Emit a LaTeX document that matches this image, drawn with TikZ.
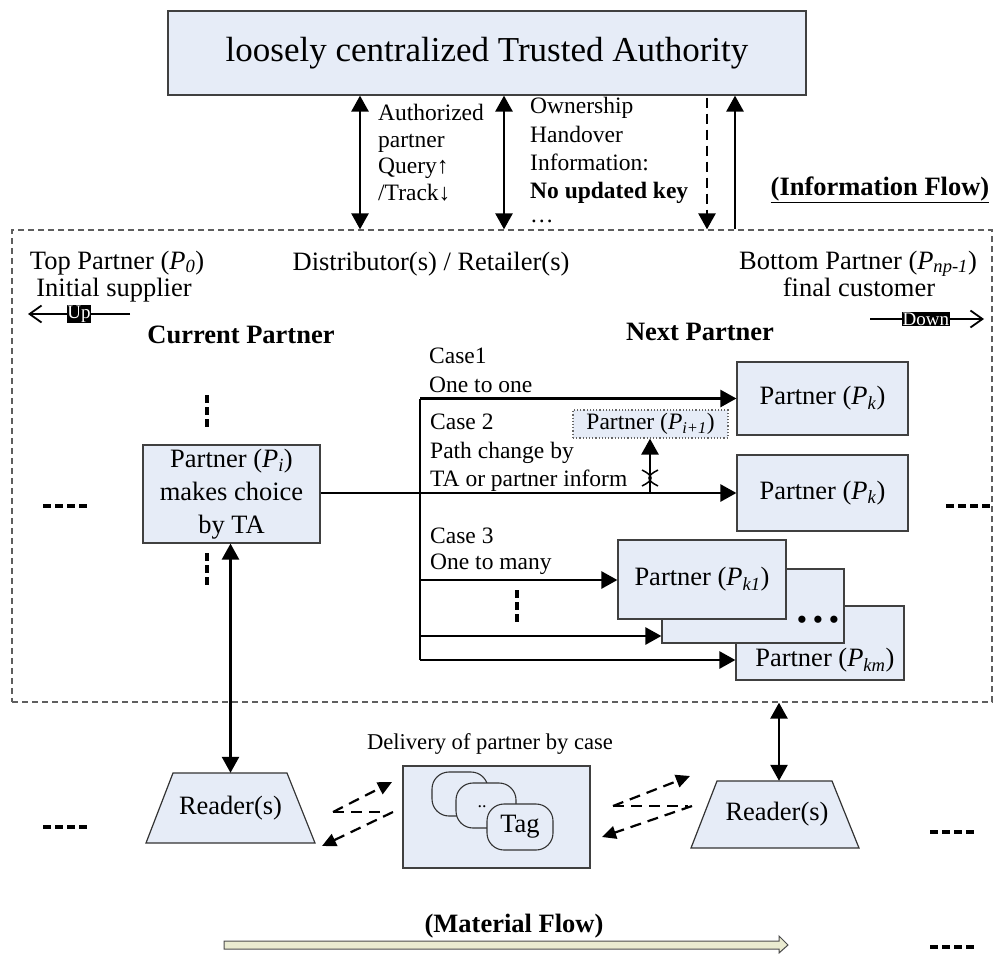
\documentclass[tikz,border=0pt]{standalone}
\usepackage{fontspec}
\setmainfont{Liberation Serif}
\usetikzlibrary{arrows.meta}
\definecolor{boxfill}{RGB}{230,236,247}
\definecolor{flowfill}{RGB}{234,235,208}
\definecolor{framegray}{RGB}{95,95,95}
\newcommand{\pp}[1]{\textit{P}\textsubscript{\textit{#1}}}
\newcommand{\fmain}{\fontsize{26.5}{33}\selectfont}
\newcommand{\fnote}{\fontsize{23.5}{28}\selectfont}
\newcommand{\ftitle}{\fontsize{35}{40}\selectfont}

\begin{document}
\begin{tikzpicture}[x=1pt,y=-1pt,
  box/.style={draw=black!75, line width=1.2pt, fill=boxfill, inner sep=0pt, font=\fmain, align=center},
  dotbox/.style={draw=black!60, dotted, line width=1.2pt, fill=boxfill, inner sep=0pt, font=\fnote},
  tagshape/.style={draw=black!80, line width=1.1pt, fill=boxfill, rounded corners=17pt, inner sep=0pt, font=\fmain},
  flow/.style={line width=2.6pt},
  tip/.style={-{Triangle[length=16pt,width=17pt]}},
  tips/.style={{Triangle[length=16pt,width=17pt]}-{Triangle[length=16pt,width=17pt]}},
  dflow/.style={line width=2.2pt, dash pattern=on 11pt off 7pt, -{Triangle[length=14pt,width=13pt]}},
  dline/.style={line width=2.2pt, dash pattern=on 11pt off 7pt},
  lbl/.style={font=\fmain, inner sep=0pt},
  note/.style={font=\fnote, inner sep=0pt, anchor=base west},
  dirarrow/.style={line width=1.8pt, -{Straight Barb[length=12pt,width=17pt,line width=1.8pt]}},
  dirtag/.style={fill=black, text=white, font=\fontsize{19}{19}\selectfont, inner sep=0.8pt},
  dotsh/.style={line width=4pt, dash pattern=on 8pt off 4pt},
  dotsv/.style={line width=4pt, dash pattern=on 8pt off 4pt},
]
\useasboundingbox (0,0) rectangle (1000,953);

% ---------- trusted authority and the partner frame ----------
\node[box, font=\ftitle, minimum width=638pt, minimum height=84pt] (ta) at (487,53) {loosely centralized Trusted Authority};
\node[draw=framegray, line width=1.3pt, dash pattern=on 6pt off 4pt, minimum width=980pt, minimum height=472pt, inner sep=0pt] (fr) at (502,466) {};

\coordinate (xa) at (360,0);
\coordinate (xb) at (504,0);
\coordinate (xc) at (707,0);
\coordinate (xd) at (735,0);
\draw[flow,tips] (ta.south -| xa) -- (fr.north -| xa);
\draw[flow,tips] (ta.south -| xb) -- (fr.north -| xb);
\draw[line width=2.6pt, dash pattern=on 10pt off 6pt, -{Triangle[length=16pt,width=17pt]}] ([yshift=-2pt]ta.south -| xc) -- (fr.north -| xc);
\draw[flow,tip] (fr.north -| xd) -- (ta.south -| xd);

\node[note] (q1) at (378,120) {Authorized};
\node[note] (q2) at (378,147) {partner};
\node[note] (q3) at (378,173) {Query↑};
\node[note] (q4) at (378,200) {/Track↓};
\node[note] (o1) at (530,113) {Ownership};
\node[note] (o2) at (530,142) {Handover};
\node[note] (o3) at (530,170) {Information:};
\node[note] (o4) at (530,198) {\textbf{No updated key}};
\node[note] (o5) at (530,222) {…};

\node[lbl, anchor=base] (info) at (880,195) {\underline{\textbf{(Information Flow)}}};

% ---------- headings inside the frame ----------
\node[lbl, anchor=base] (top1) at (117,269) {Top Partner (\pp{0})};
\node[lbl, anchor=base] (top2) at (114,296) {Initial supplier};
\node[lbl, anchor=base] (dist) at (431,270) {Distributor(s) / Retailer(s)};
\node[lbl, anchor=base] (bot1) at (858,269) {Bottom Partner (\pp{np-1})};
\node[lbl, anchor=base] (bot2) at (859,296) {final customer};
\node[lbl, anchor=base] (cur) at (241,343) {\textbf{Current Partner}};
\node[lbl, anchor=base] (nxt) at (700,340) {\textbf{Next Partner}};

\coordinate (upR) at (130,314);
\coordinate (upL) at (28,314);
\draw[dirarrow] (upR) -- (upL) node[pos=0.5, dirtag] {Up};
\coordinate (dnL) at (870,319);
\coordinate (dnR) at (984,319);
\draw[dirarrow] (dnL) -- (dnR) node[pos=0.49, dirtag] {Down};

% ---------- current partner ----------
\node[box, minimum width=177pt, minimum height=98pt] (pi) at (231.5,494) {Partner (\pp{i})\\makes choice\\by TA};
\draw[dotsv] (207,395) -- (207,427);
\draw[dotsv] (207,553) -- (207,585);
\draw[dotsh] (43,506) -- (89,506);
\draw[dotsh] (946,506) -- (992,506);

% ---------- next partner, case 1 and case 2 ----------
\node[box, minimum width=171pt, minimum height=73pt] (pk1) at (822.5,398.5) {Partner (\pp{k})};
\node[box, minimum width=171pt, minimum height=76pt] (pk2) at (822.5,493) {Partner (\pp{k})};
\node[dotbox, minimum width=155pt, minimum height=28pt] (pnx) at (650.5,424) {Partner (\pp{i+1})};

\coordinate (c1) at (420,398.5);
\coordinate (c2) at (420,493);
\coordinate (c3a) at (420,580);
\coordinate (c3b) at (420,636);
\coordinate (c3c) at (420,660);
\coordinate (br) at (650,493);

\draw[flow] (c1) -- (c3c);
\draw[flow,tip] (c1) -- (pk1.west);
\draw[flow] (pi.east |- c2) -- (c2);
\draw[flow,tip] (c2) -- (pk2.west);
\draw[flow,tip] (br) -- (br |- pnx.south);
% cut mark on the path-change branch
\draw[line width=1.5pt] (642,470) .. controls (654,476) and (654,480) .. (642,486)
                        (658,470) .. controls (646,476) and (646,480) .. (658,486);

\node[note] (k1a) at (429,363) {Case1};
\node[note] (k1b) at (429,392) {One to one};
\node[note] (k2a) at (430,429) {Case 2};
\node[note] (k2b) at (430,458) {Path change by};
\node[note] (k2c) at (430,486) {TA or partner inform};
\node[note] (k3a) at (430,543) {Case 3};
\node[note] (k3b) at (430,569) {One to many};

% ---------- case 3: one to many ----------
\node[box, minimum width=168pt, minimum height=74pt] (pkm) at (820,643) {};
\node[lbl, anchor=south east] at ([xshift=-10pt,yshift=8pt]pkm.south east) {Partner (\pp{km})};
\node[box, minimum width=182pt, minimum height=74pt] (pmid) at (753,606) {};
\node[lbl] (ell) at (818,622) {\textbf{• • •}};
\node[box, minimum width=168pt, minimum height=79pt] (pka) at (702,579.5) {Partner (\pp{k1})};
\draw[flow,tip] (c3a) -- (c3a -| pka.west);
\draw[flow,tip] (c3b) -- (c3b -| pmid.west);
\draw[flow,tip] (c3c) -- (c3c -| pkm.west);
\draw[dotsv] (517,590) -- (517,622);

% ---------- readers and tags ----------
\draw[draw=black!80, line width=1.2pt, fill=boxfill] (146,843) -- (173,773) -- (287,773) -- (315,843) -- cycle;
\node[lbl, minimum width=114pt, minimum height=70pt] (rdl) at (230.5,808) {Reader(s)};
\draw[draw=black!80, line width=1.2pt, fill=boxfill] (691,848) -- (717,781) -- (832,781) -- (859,848) -- cycle;
\node[lbl, minimum width=115pt, minimum height=67pt] (rdr) at (777,814.5) {Reader(s)};

\draw[flow,tips] (pi.south -| rdl.north) -- (rdl.north);
\draw[flow,tips] (fr.south -| 779,0) -- (rdr.north -| 779,0);

\node[box, minimum width=187pt, minimum height=102pt] (tagbox) at (496.5,817) {};
\node[font=\fontsize{22.6}{26}\selectfont, inner sep=0pt, anchor=base] (dlv) at (490,749) {Delivery of partner by case};
\node[tagshape, minimum width=56pt, minimum height=44pt] (t1) at (460,794) {};
\node[tagshape, minimum width=60pt, minimum height=45pt] (t2) at (486,805.5) {};
\node[font=\fontsize{18}{18}\selectfont, inner sep=0pt] (t2d) at (482,807) {..};
\node[tagshape, minimum width=66pt, minimum height=46pt] (t3) at (520,827) {Tag};

\coordinate (la1) at (333,812);
\coordinate (la2) at (392,782);
\coordinate (la3) at (381,812);
\coordinate (la4) at (393,812);
\coordinate (la5) at (322,846);
\draw[dflow] (la1) -- (la2);
\draw[dline] (la1) -- (la3);
\draw[dflow] (la4) -- (la5);

\coordinate (ra1) at (613,806);
\coordinate (ra2) at (690,776);
\coordinate (ra3) at (688,806);
\coordinate (ra4) at (692,806);
\coordinate (ra5) at (602,837);
\draw[dflow] (ra1) -- (ra2);
\draw[dline] (ra1) -- (ra3);
\draw[dflow] (ra4) -- (ra5);

\draw[dotsh] (43,827) -- (89,827);
\draw[dotsh] (930,832) -- (976,832);
\draw[dotsh] (930,947) -- (976,947);

% ---------- material flow ----------
\node[lbl, anchor=base] (mat) at (514,932) {\textbf{(Material Flow)}};
\draw[draw=black!70, line width=1pt, fill=flowfill] (224,941) -- (779,941) -- (779,936) -- (788,945) -- (779,953) -- (779,949) -- (224,949) -- cycle;
\end{tikzpicture}
\end{document}
